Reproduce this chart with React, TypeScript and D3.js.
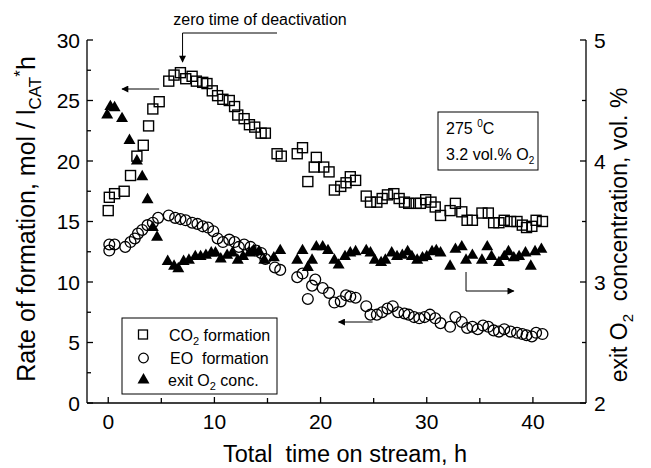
import React from "react";
import * as d3 from "d3";

// Time on stream (h) and CO2 formation rate (mol / l_CAT*h)
const co2Data: [number, number][] = [
  [0.0, 15.9], [0.1, 17.0], [0.6, 17.3], [1.5, 17.5], [2.1, 18.8], [2.7, 20.4], [3.3, 21.3],
  [3.8, 22.9], [4.2, 24.3], [4.8, 24.9], [5.7, 26.6], [6.2, 27.1], [6.8, 27.3], [7.3, 26.8],
  [7.9, 27.0], [8.3, 26.6], [8.9, 26.5], [9.3, 26.4], [9.8, 25.8], [10.3, 25.4], [10.8, 25.1],
  [11.4, 25.0], [11.9, 24.5], [12.2, 23.8], [12.8, 23.5], [13.3, 23.0], [13.8, 22.8], [14.4, 22.3],
  [14.8, 22.3], [15.9, 20.6], [16.3, 20.4], [17.8, 20.6], [18.3, 21.1], [18.8, 18.3], [19.4, 19.5],
  [19.6, 20.3], [20.3, 19.5], [20.8, 19.1], [21.3, 17.6], [21.9, 17.9], [22.4, 18.2], [22.8, 18.7],
  [23.3, 18.4], [24.3, 17.1], [24.7, 16.6], [25.3, 16.6], [25.8, 16.9], [26.3, 17.2], [26.9, 17.3],
  [27.4, 16.9], [27.9, 16.6], [28.3, 16.5], [29.0, 16.5], [29.4, 16.5], [29.9, 16.8], [30.4, 16.6],
  [30.8, 16.2], [31.3, 15.5], [32.2, 15.9], [32.7, 16.5], [33.3, 15.8], [33.8, 15.1], [34.3, 15.1],
  [35.2, 15.7], [35.8, 15.7], [36.3, 14.9], [36.8, 14.9], [37.3, 15.1], [37.9, 15.0], [38.5, 15.0],
  [39.0, 14.7], [39.4, 14.5], [39.9, 14.6], [40.3, 15.1], [40.9, 15.0],
];

// Time on stream (h) and EO formation rate (mol / l_CAT*h)
const eoData: [number, number][] = [
  [0.1, 12.6], [0.1, 13.1], [0.6, 13.1], [1.6, 12.9], [2.1, 13.3], [2.5, 13.6], [2.8, 14.0],
  [3.2, 14.3], [3.7, 14.7], [4.2, 14.9], [4.7, 15.3], [5.7, 15.5], [6.3, 15.3], [6.8, 15.2],
  [7.3, 15.1], [7.9, 14.9], [8.4, 14.8], [8.9, 14.6], [9.4, 14.5], [9.9, 14.2], [10.3, 13.6],
  [10.8, 13.3], [11.4, 13.5], [11.9, 13.3], [12.3, 12.9], [12.8, 13.1], [13.4, 12.9], [13.9, 12.6],
  [14.4, 12.4], [14.8, 11.9], [15.7, 11.2], [16.2, 11.0], [17.8, 10.4], [18.3, 10.7], [18.8, 8.6],
  [19.2, 9.7], [19.5, 10.2], [20.2, 9.5], [20.8, 9.1], [21.3, 8.3], [21.9, 8.4], [22.4, 8.9],
  [22.8, 8.8], [23.3, 8.7], [24.3, 8.0], [24.7, 7.3], [25.3, 7.3], [25.8, 7.5], [26.3, 7.8],
  [26.8, 8.0], [27.3, 7.5], [27.9, 7.4], [28.3, 7.3], [28.8, 7.1], [29.3, 7.0], [29.8, 7.1],
  [30.3, 7.3], [30.8, 7.0], [31.3, 6.6], [32.2, 6.3], [32.7, 7.1], [33.3, 6.7], [33.8, 6.2],
  [34.3, 6.3], [34.8, 6.1], [35.3, 6.4], [35.8, 6.3], [36.3, 6.0], [36.8, 5.9], [37.3, 6.1],
  [37.9, 5.9], [38.5, 5.8], [39.0, 5.7], [39.4, 5.6], [39.9, 5.5], [40.3, 5.8], [40.9, 5.7],
];

// Time on stream (h) and exit O2 concentration (vol. %)
const o2Data: [number, number][] = [
  [-0.1, 4.38], [0.2, 4.45], [0.6, 4.44], [1.3, 4.35], [2.0, 4.17], [2.7, 4.0], [3.2, 3.87],
  [3.7, 3.68], [4.2, 3.45], [4.6, 3.37], [5.6, 3.17], [6.2, 3.13], [6.6, 3.11], [7.1, 3.17],
  [7.6, 3.18], [8.2, 3.21], [8.7, 3.21], [9.2, 3.22], [9.7, 3.24], [10.1, 3.24], [10.6, 3.19],
  [11.2, 3.22], [11.7, 3.24], [12.2, 3.18], [12.7, 3.21], [13.3, 3.24], [13.7, 3.26], [14.2, 3.25],
  [14.7, 3.18], [15.6, 3.2], [16.2, 3.26], [17.8, 3.18], [18.3, 3.26], [18.8, 3.12], [19.2, 3.18],
  [19.6, 3.29], [20.2, 3.29], [20.7, 3.26], [21.3, 3.18], [21.7, 3.14], [22.3, 3.21], [22.8, 3.24],
  [23.3, 3.25], [24.3, 3.26], [24.7, 3.24], [25.1, 3.18], [25.7, 3.16], [26.1, 3.18], [26.7, 3.24],
  [27.2, 3.21], [27.7, 3.22], [28.2, 3.25], [28.6, 3.21], [29.1, 3.18], [29.6, 3.2], [30.0, 3.21],
  [30.5, 3.25], [30.9, 3.26], [31.3, 3.24], [32.2, 3.13], [32.7, 3.27], [33.3, 3.29], [33.7, 3.18],
  [34.3, 3.22], [35.2, 3.18], [35.7, 3.29], [36.1, 3.21], [36.8, 3.16], [37.3, 3.21], [37.7, 3.25],
  [38.2, 3.2], [38.7, 3.21], [39.3, 3.24], [39.8, 3.13], [40.2, 3.25], [40.8, 3.27],
];

const xMajorTicks = [0, 10, 20, 30, 40];
const xMinorTicks = [5, 15, 25, 35];
const yLeftMajorTicks = [0, 5, 10, 15, 20, 25, 30];
const yLeftMinorTicks = [2.5, 7.5, 12.5, 17.5, 22.5, 27.5];
const yRightMajorTicks = [2, 3, 4, 5];
const yRightMinorTicks = [2.5, 3.5, 4.5];

const FONT = "'Liberation Sans', Arial, Helvetica, sans-serif";
const W = 651;
const H = 468;

export default function App() {
  const x = d3.scaleLinear().domain([-2, 45]).range([87, 586]);
  const yL = d3.scaleLinear().domain([0, 30]).range([403, 40]);
  const yR = d3.scaleLinear().domain([2, 5]).range([403, 40]);

  const left = x.range()[0];
  const right = x.range()[1];
  const bottom = yL.range()[0];
  const top = yL.range()[1];

  const tri = d3.symbol().type(d3.symbolTriangle).size(62)() as string;

  const sq = 10;
  const rC = 5.4;

  return (
    <svg
      width={W}
      height={H}
      viewBox={`0 0 ${W} ${H}`}
      style={{ position: "absolute", left: 0, top: 0, background: "#fff" }}
      fontFamily={FONT}
    >
      <defs>
        <marker id="ah" viewBox="0 0 10 10" refX="9" refY="5" markerWidth="9" markerHeight="7" markerUnits="userSpaceOnUse" orient="auto">
          <path d="M0,0 L10,5 L0,10 z" fill="#000" />
        </marker>
      </defs>

      {/* axes frame: left, bottom, right */}
      <g stroke="#000" strokeWidth={1.3} fill="none">
        <line x1={left} y1={top} x2={left} y2={bottom} />
        <line x1={left} y1={bottom} x2={right} y2={bottom} />
        <line x1={right} y1={top} x2={right} y2={bottom} />
        {xMajorTicks.map((t) => (
          <line key={"xM" + t} x1={x(t)} x2={x(t)} y1={bottom} y2={bottom - 6} />
        ))}
        {xMinorTicks.map((t) => (
          <line key={"xm" + t} x1={x(t)} x2={x(t)} y1={bottom} y2={bottom - 5} />
        ))}
        {yLeftMajorTicks.map((t) => (
          <line key={"lM" + t} x1={left} x2={left + 6} y1={yL(t)} y2={yL(t)} />
        ))}
        {yLeftMinorTicks.map((t) => (
          <line key={"lm" + t} x1={left} x2={left + 4} y1={yL(t)} y2={yL(t)} />
        ))}
        {yRightMajorTicks.map((t) => (
          <line key={"rM" + t} x1={right} x2={right - 6} y1={yR(t)} y2={yR(t)} />
        ))}
        {yRightMinorTicks.map((t) => (
          <line key={"rm" + t} x1={right} x2={right - 4} y1={yR(t)} y2={yR(t)} />
        ))}
      </g>

      {/* tick labels */}
      <g fontSize={21} fill="#000">
        {xMajorTicks.map((t) => (
          <text key={"xl" + t} x={x(t)} y={429} textAnchor="middle">{t}</text>
        ))}
        {yLeftMajorTicks.map((t) => (
          <text key={"ll" + t} x={80} y={yL(t) + 7.5} textAnchor="end">{t}</text>
        ))}
        {yRightMajorTicks.map((t) => (
          <text key={"rl" + t} x={594} y={yR(t) + 7.5} textAnchor="start">{t}</text>
        ))}
      </g>

      {/* axis titles */}
      <text x={345} y={462} fontSize={23.5} textAnchor="middle" xmlSpace="preserve">Total  time on stream, h</text>
      <text transform="translate(35,219) rotate(-90)" fontSize={25} textAnchor="middle">
        Rate of formation, mol / l<tspan fontSize={17} dy={6}>CAT</tspan>
        <tspan fontSize={17} dy={-15}>*</tspan>
        <tspan dy={9}>h</tspan>
      </text>
      <text transform="translate(627,235) rotate(-90)" fontSize={23} textAnchor="middle" xmlSpace="preserve">
        exit O<tspan fontSize={15} dy={6}>2</tspan>
        <tspan dy={-6}>  concentration, vol. %</tspan>
      </text>

      {/* O2 triangles */}
      <g fill="#000">
        {o2Data.map(([t, c], i) => (
          <path key={"o" + i} d={tri} transform={`translate(${x(t)},${yR(c)})`} />
        ))}
      </g>

      {/* CO2 squares */}
      <g fill="none" stroke="#000" strokeWidth={1.4}>
        {co2Data.map(([t, v], i) => (
          <rect key={"c" + i} x={x(t) - sq / 2} y={yL(v) - sq / 2} width={sq} height={sq} />
        ))}
      </g>

      {/* EO circles */}
      <g fill="none" stroke="#000" strokeWidth={1.3}>
        {eoData.map(([t, v], i) => (
          <circle key={"e" + i} cx={x(t)} cy={yL(v)} r={rC} />
        ))}
      </g>

      {/* annotations */}
      <text x={260} y={25} fontSize={16} textAnchor="middle">zero time of deactivation</text>
      <g stroke="#000" strokeWidth={1} fill="none">
        <polyline points={`277,33 ${x(7)},33 ${x(7)},62`} markerEnd="url(#ah)" />
        <line x1={x(4.8)} y1={89} x2={x(1.3)} y2={89} markerEnd="url(#ah)" />
        <polyline points={`${x(33.7)},272 ${x(33.7)},291 ${x(38.2)},291`} markerEnd="url(#ah)" />
        <line x1={x(24.9)} y1={322} x2={x(21.7)} y2={322} markerEnd="url(#ah)" />
      </g>

      {/* condition box */}
      <rect x={438} y={112} width={100} height={58} fill="#fff" stroke="#000" strokeWidth={1} />
      <text x={446} y={134} fontSize={16}>
        275 <tspan fontSize={10} dy={-7}>0</tspan>
        <tspan dy={7}>C</tspan>
      </text>
      <text x={446} y={160} fontSize={16}>
        3.2 vol.% O<tspan fontSize={10} dy={4}>2</tspan>
      </text>

      {/* legend */}
      <rect x={122} y={318} width={155} height={76} fill="#fff" stroke="#000" strokeWidth={1} />
      <rect x={143 - sq / 2 + 0.5} y={335 - sq / 2} width={sq - 1} height={sq - 1} fill="none" stroke="#000" strokeWidth={1.3} />
      <circle cx={143.5} cy={358} r={rC - 0.6} fill="none" stroke="#000" strokeWidth={1.3} />
      <path d={tri} transform="translate(143.5,380)" fill="#000" />
      <g fontSize={16}>
        <text x={169} y={341}>
          CO<tspan fontSize={11} dy={4}>2</tspan>
          <tspan dy={-4}> formation</tspan>
        </text>
        <text x={170} y={364} xmlSpace="preserve">EO  formation</text>
        <text x={168} y={386}>
          exit O<tspan fontSize={11} dy={4}>2</tspan>
          <tspan dy={-4}> conc.</tspan>
        </text>
      </g>
    </svg>
  );
}
